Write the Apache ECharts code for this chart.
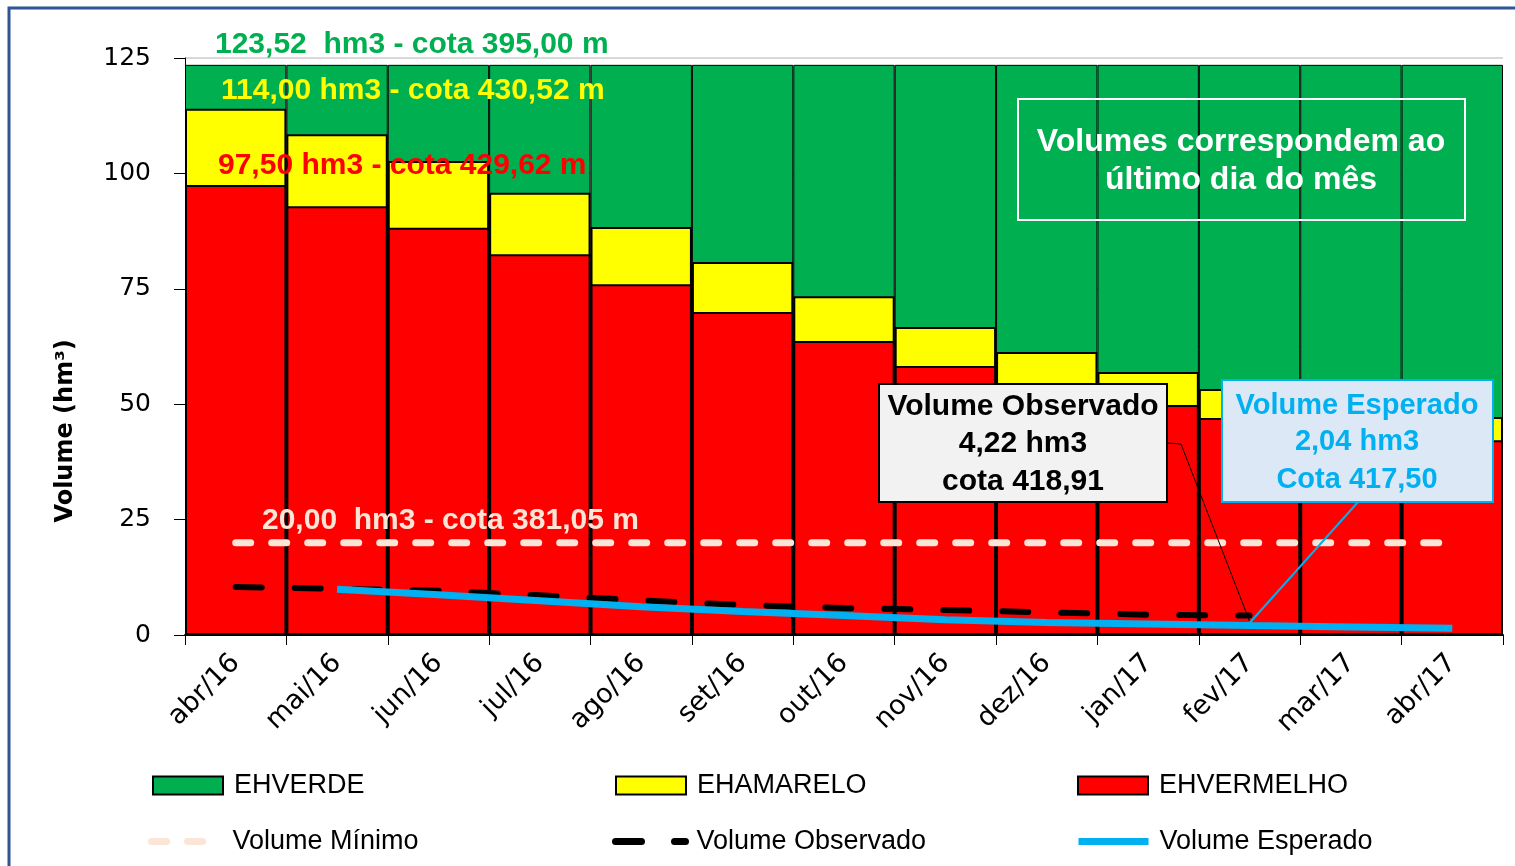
<!DOCTYPE html>
<html lang="pt-BR">
<head>
    <meta charset="UTF-8">
    <title>Volume armazenado</title>
    <script src="https://cdn.jsdelivr.net/npm/echarts@6.0.0/dist/echarts.min.js"></script>
    <style>
        html, body { margin: 0; padding: 0; background: #fff; }
        #chart { width: 1515px; height: 866px; }
    </style>
</head>
<body>
    <div id="chart"></div>
    <script>
        // meses (último dia do mês)
        const meses = ['abr/16', 'mai/16', 'jun/16', 'jul/16', 'ago/16', 'set/16', 'out/16',
                       'nov/16', 'dez/16', 'jan/17', 'fev/17', 'mar/17', 'abr/17'];
        // topo de cada faixa (hm3)
        const ehVerde = [123.52, 123.52, 123.52, 123.52, 123.52, 123.52, 123.52,
                         123.52, 123.52, 123.52, 123.52, 123.52, 123.52];
        const ehAmarelo = [114.0, 108.5, 102.7, 95.8, 88.4, 80.8, 73.4, 66.7, 61.3, 57.0, 53.3, 50.2, 47.2];
        const ehVermelho = [97.5, 92.9, 88.2, 82.5, 76.0, 70.0, 63.7, 58.3, 54.0, 49.8, 47.0, 44.6, 42.2];
        // linhas
        const volMinimo = [20, 20, 20, 20, 20, 20, 20, 20, 20, 20, 20, 20, 20];
        const volObservado = [10.4, 10.0, 9.6, 8.6, 7.5, 6.5, 5.85, 5.4, 4.9, 4.4, 4.22, null, null];
        const volEsperado = [null, 9.9, 8.7, 7.4, 6.1, 5.1, 4.2, 3.3, 2.7, 2.4, 2.04, 1.75, 1.45];
        const yTicks = [0, 25, 50, 75, 100, 125];

        const fonteNum = "'DejaVu Sans', Verdana, sans-serif";
        const fonteTxt = "'Liberation Sans', Arial, sans-serif";

        const chart = echarts.init(document.getElementById('chart'));

        // uma legenda por item, para posicionar como no original
        function legenda(nome, x, y, extra) {
            return Object.assign({
                data: [nome], left: x, top: y, padding: 0, itemWidth: 70, itemHeight: 18,
                selectedMode: false,
                textStyle: { fontSize: 27, color: '#000', fontFamily: fonteTxt, padding: [0, 0, 0, 6] }
            }, extra || {});
        }

        function texto(t, x, y, cor, tam, alinh) {
            return {
                type: 'text', x: x, y: y, z: 100,
                style: {
                    text: t, fill: cor, fontSize: tam, fontWeight: 'bold', fontFamily: fonteTxt,
                    align: alinh || 'left', verticalAlign: 'middle'
                }
            };
        }

        const option = {
            animation: false,
            grid: { left: 185, right: 12, top: 58, bottom: 231 },
            xAxis: {
                type: 'category', data: meses, boundaryGap: true,
                axisLine: { lineStyle: { color: '#000', width: 2 } },
                axisTick: { show: true, length: 10, lineStyle: { color: '#000', width: 1 } },
                axisLabel: { rotate: 45, margin: 24, fontSize: 27, color: '#000', fontFamily: fonteNum, interval: 0 }
            },
            yAxis: {
                type: 'value', min: yTicks[0], max: yTicks[yTicks.length - 1], interval: 25,
                axisLine: { show: true, lineStyle: { color: '#000', width: 1 } },
                axisTick: { show: true, length: 11, lineStyle: { color: '#000' } },
                minorTick: { show: true, splitNumber: 5, length: -8, lineStyle: { color: '#000' } },
                axisLabel: { margin: 34, fontSize: 25, color: '#000', fontFamily: fonteNum },
                splitLine: { show: true, lineStyle: { color: '#d9d9d9', width: 2 } }
            },
            legend: [
                legenda('EHVERDE', 152, 772, { icon: 'rect' }),
                legenda('EHAMARELO', 615, 772, { icon: 'rect' }),
                legenda('EHVERMELHO', 1077, 772, { icon: 'rect' }),
                legenda('Volume Mínimo', 148, 828, { itemStyle: { opacity: 0 }, lineStyle: { width: 7 } }),
                legenda('Volume Observado', 612, 828, { itemStyle: { opacity: 0 }, lineStyle: { width: 7 } }),
                legenda('Volume Esperado', 1075, 828, { itemStyle: { opacity: 0 }, lineStyle: { width: 7 } })
            ],
            series: [
                {
                    name: 'EHVERDE', type: 'bar', data: ehVerde, barGap: '-100%', barCategoryGap: 0,
                    itemStyle: { color: '#00b050', borderColor: '#000', borderWidth: 1 }
                },
                {
                    name: 'EHAMARELO', type: 'bar', data: ehAmarelo, barGap: '-100%', barCategoryGap: 0,
                    itemStyle: { color: '#ffff00', borderColor: '#000', borderWidth: 2 }
                },
                {
                    name: 'EHVERMELHO', type: 'bar', data: ehVermelho, barGap: '-100%', barCategoryGap: 0,
                    itemStyle: { color: '#ff0000', borderColor: '#000', borderWidth: 2 }
                },
                {
                    name: 'Volume Mínimo', type: 'line', data: volMinimo, symbol: 'none', z: 5,
                    lineStyle: { color: '#fbe5d6', width: 7, type: [15, 21], cap: 'round' },
                    itemStyle: { color: '#fbe5d6' }
                },
                {
                    name: 'Volume Observado', type: 'line', data: volObservado, symbol: 'none', z: 5,
                    lineStyle: { color: '#000', width: 6, type: [26, 33], cap: 'round' },
                    itemStyle: { color: '#000' }
                },
                {
                    name: 'Volume Esperado', type: 'line', data: volEsperado, symbol: 'none', z: 6,
                    lineStyle: { color: '#00b0f0', width: 7 },
                    itemStyle: { color: '#00b0f0' }
                }
            ]
        };
        chart.setOption(option);

        // pontos das chamadas
        const pObs = chart.convertToPixel({ gridIndex: 0 }, ['fev/17', 3.0]);
        const pEsp = chart.convertToPixel({ gridIndex: 0 }, ['fev/17', 2.6]);

        chart.setOption({
            graphic: [
                { type: 'rect', z: 100, shape: { x: 9, y: 8, width: 1540, height: 900 },
                  style: { fill: 'none', stroke: '#2f5597', lineWidth: 3 } },
                { type: 'text', x: 66, y: 431, rotation: Math.PI / 2, z: 100,
                  style: { text: 'Volume (hm³)', fill: '#000', fontSize: 24, fontWeight: 'bold',
                           fontFamily: fonteNum, align: 'center', verticalAlign: 'middle' } },
                texto('123,52  hm3 - cota 395,00 m', 215, 45, '#00b050', 30),
                texto('114,00 hm3 - cota 430,52 m', 221, 91, '#ffff00', 30),
                texto('97,50 hm3 - cota 429,62 m', 218, 166, '#ff0000', 30),
                texto('20,00  hm3 - cota 381,05 m', 262, 521, '#fbe5d6', 30),
                { type: 'rect', z: 100, shape: { x: 1018, y: 99, width: 447, height: 121 },
                  style: { fill: 'none', stroke: '#fff', lineWidth: 2 } },
                texto('Volumes correspondem ao', 1241, 142, '#fff', 32, 'center'),
                texto('último dia do mês', 1241, 180, '#fff', 32, 'center'),
                { type: 'polyline', z: 99, shape: { points: [[1167, 443], [1181, 444], pObs] },
                  style: { fill: 'none', stroke: '#000', lineWidth: 1 } },
                { type: 'line', z: 99, shape: { x1: 1358, y1: 502, x2: pEsp[0], y2: pEsp[1] },
                  style: { stroke: '#00b0f0', lineWidth: 2 } },
                { type: 'rect', z: 100, shape: { x: 879, y: 384, width: 288, height: 118 },
                  style: { fill: '#f2f2f2', stroke: '#000', lineWidth: 2 } },
                texto('Volume Observado', 1023, 407, '#000', 30, 'center'),
                texto('4,22 hm3', 1023, 444, '#000', 30, 'center'),
                texto('cota 418,91', 1023, 482, '#000', 30, 'center'),
                { type: 'rect', z: 100, shape: { x: 1222, y: 380, width: 271, height: 122 },
                  style: { fill: '#dce8f5', stroke: '#00b0f0', lineWidth: 2 } },
                texto('Volume Esperado', 1357, 406, '#00b0f0', 29, 'center'),
                texto('2,04 hm3', 1357, 442, '#00b0f0', 29, 'center'),
                texto('Cota 417,50', 1357, 480, '#00b0f0', 29, 'center')
            ]
        });
    </script>
</body>
</html>
